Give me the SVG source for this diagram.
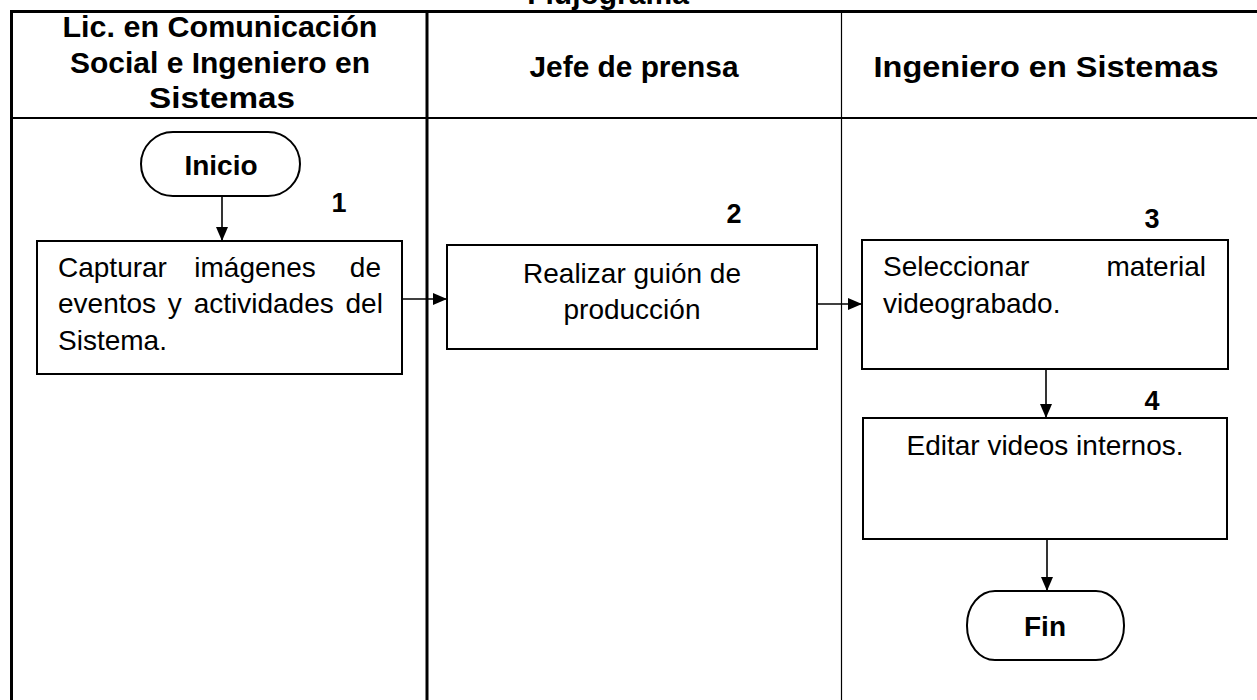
<svg xmlns="http://www.w3.org/2000/svg" width="1257" height="700" viewBox="0 0 1257 700">
  <defs>
    <style>
      .hdr { font-family: "Liberation Sans", Arial, sans-serif; font-weight: bold; font-size: 30px; fill: #000; text-anchor: middle; }
      .term-t { font-family: "Liberation Sans", Arial, sans-serif; font-weight: bold; font-size: 28px; fill: #000; text-anchor: middle; }
      .txt { font-family: "Liberation Sans", Arial, sans-serif; font-size: 28px; fill: #000; }
      .num { font-family: "Liberation Sans", Arial, sans-serif; font-weight: bold; font-size: 27px; fill: #000; text-anchor: middle; }
      .box { fill: #fff; stroke: #000; stroke-width: 2; }
      .term { fill: #fff; stroke: #000; stroke-width: 2; }
      .conn { stroke: #000; stroke-width: 1.6; fill: none; }
      .frame { stroke: #000; fill: none; }
    </style>
    <marker id="arrow" viewBox="0 0 14 12" refX="14" refY="6" markerWidth="14" markerHeight="12" markerUnits="userSpaceOnUse" orient="auto">
      <path d="M0,0 L14,6 L0,12 Z" fill="#000"/>
    </marker>
  </defs>
  <rect width="1257" height="700" fill="#fff"/>

  <g id="title">
    <text class="hdr" x="608" y="4" font-size="28">Flujograma</text>
  </g>

  <g id="lanes">
    <line class="frame" x1="10" y1="11.5" x2="1257" y2="11.5" stroke-width="3"/>
    <line class="frame" x1="11.5" y1="10" x2="11.5" y2="700" stroke-width="3"/>
    <line class="frame" x1="10" y1="118" x2="1257" y2="118" stroke-width="2.2"/>
    <line class="frame" x1="427" y1="10" x2="427" y2="700" stroke-width="3"/>
    <line class="frame" x1="841.5" y1="10" x2="841.5" y2="700" stroke-width="1.2"/>
    <text class="hdr" x="220" y="37" textLength="315" lengthAdjust="spacingAndGlyphs">Lic. en Comunicación</text>
    <text class="hdr" x="220" y="72.5">Social e Ingeniero en</text>
    <text class="hdr" x="222" y="108" textLength="146" lengthAdjust="spacingAndGlyphs">Sistemas</text>
    <text class="hdr" x="634" y="77" textLength="209" lengthAdjust="spacingAndGlyphs">Jefe de prensa</text>
    <text class="hdr" x="1046" y="77" textLength="345" lengthAdjust="spacingAndGlyphs">Ingeniero en Sistemas</text>
  </g>

  <g id="connectors">
    <line class="conn" x1="222" y1="196" x2="222" y2="241" marker-end="url(#arrow)"/>
    <line class="conn" x1="402" y1="299" x2="447" y2="299" marker-end="url(#arrow)"/>
    <line class="conn" x1="817" y1="304" x2="862" y2="304" marker-end="url(#arrow)"/>
    <line class="conn" x1="1046" y1="369" x2="1046" y2="418" marker-end="url(#arrow)"/>
    <line class="conn" x1="1047" y1="539" x2="1047" y2="591" marker-end="url(#arrow)"/>
  </g>

  <g id="inicio">
    <rect class="term" x="141" y="132" width="159" height="64" rx="32" ry="32"/>
    <text class="term-t" x="221" y="175">Inicio</text>
  </g>

  <g id="step1">
    <text class="num" x="339" y="212">1</text>
    <rect class="box" x="37" y="241" width="365" height="133"/>
    <text class="txt" x="58" y="277">Capturar</text>
    <text class="txt" x="255" y="277" text-anchor="middle">imágenes</text>
    <text class="txt" x="381" y="277" text-anchor="end">de</text>
    <text class="txt" x="58" y="313" word-spacing="4">eventos y actividades del</text>
    <text class="txt" x="58" y="350">Sistema.</text>
  </g>

  <g id="step2">
    <text class="num" x="734" y="223">2</text>
    <rect class="box" x="447" y="245" width="370" height="104"/>
    <text class="txt" x="632" y="283" text-anchor="middle">Realizar guión de</text>
    <text class="txt" x="632" y="319" text-anchor="middle">producción</text>
  </g>

  <g id="step3">
    <text class="num" x="1152" y="228">3</text>
    <rect class="box" x="862" y="240" width="366" height="129"/>
    <text class="txt" x="883" y="276">Seleccionar</text>
    <text class="txt" x="1206" y="276" text-anchor="end">material</text>
    <text class="txt" x="883" y="313">videograbado.</text>
  </g>

  <g id="step4">
    <text class="num" x="1152" y="410">4</text>
    <rect class="box" x="863" y="418" width="364" height="121"/>
    <text class="txt" x="1045" y="455" text-anchor="middle">Editar videos internos.</text>
  </g>

  <g id="fin">
    <rect class="term" x="967" y="591" width="157" height="69" rx="28" ry="34"/>
    <text class="term-t" x="1045" y="636">Fin</text>
  </g>
</svg>
